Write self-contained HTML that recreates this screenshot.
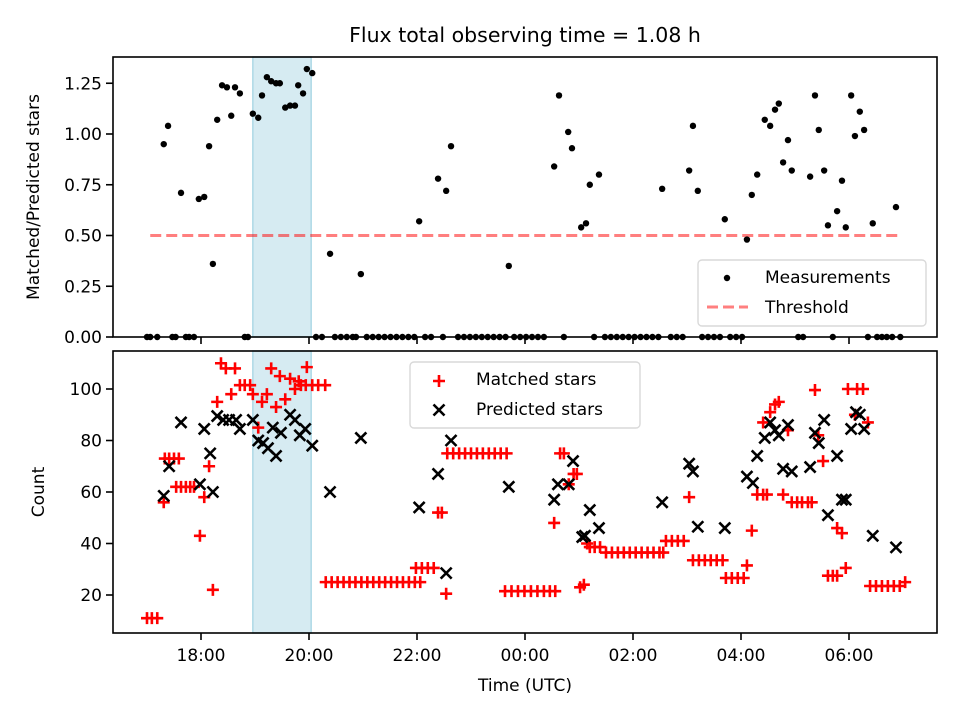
<!DOCTYPE html>
<html><head><meta charset="utf-8"><style>
html,body{margin:0;padding:0;background:#fff;}
svg{display:block;font-family:"DejaVu Sans","Liberation Sans",sans-serif;}
</style></head><body>
<svg id="chart" width="960" height="720" viewBox="0 0 960 720" xmlns="http://www.w3.org/2000/svg"></svg>
<script>
// ---- data (times in decimal hours, >24 = next day) ----
const xTickHours = [18, 20, 22, 24, 26, 28, 30];
const xTickLabels = ["18:00", "20:00", "22:00", "00:00", "02:00", "04:00", "06:00"];
const topTicks = [0, 0.25, 0.5, 0.75, 1.0, 1.25];
const topTickLabels = ["0.00", "0.25", "0.50", "0.75", "1.00", "1.25"];
const botTicks = [20, 40, 60, 80, 100];
const botTickLabels = ["20", "40", "60", "80", "100"];
const threshold = 0.5;
const thresholdRange = [17.06, 30.96];
const shadeRange = [18.96, 20.04];

const ratioTimes = [17.31,17.39,17.63,17.96,18.06,18.15,18.22,18.30,18.39,18.48,18.56,18.63,18.72,18.96,19.06,19.13,19.22,19.30,19.39,19.46,19.56,19.65,19.74,19.80,19.89,19.96,20.06,20.39,20.96,22.04,22.39,22.54,22.63,23.70,24.54,24.63,24.80,24.87,25.04,25.13,25.20,25.37,26.54,27.04,27.11,27.20,27.70,28.11,28.20,28.30,28.44,28.54,28.63,28.70,28.78,28.87,28.94,29.28,29.37,29.44,29.54,29.61,29.78,29.87,29.94,30.04,30.11,30.20,30.28,30.44,30.87];
const ratioValues = [0.95,1.04,0.71,0.68,0.69,0.94,0.36,1.07,1.24,1.23,1.09,1.23,1.20,1.10,1.08,1.19,1.28,1.26,1.25,1.25,1.13,1.14,1.14,1.24,1.20,1.32,1.30,0.41,0.31,0.57,0.78,0.72,0.94,0.35,0.84,1.19,1.01,0.93,0.54,0.56,0.75,0.80,0.73,0.82,1.04,0.72,0.58,0.48,0.70,0.80,1.07,1.04,1.12,1.15,0.86,0.97,0.82,0.79,1.19,1.02,0.82,0.55,0.62,0.77,0.54,1.19,0.99,1.11,1.02,0.56,0.64];
const zeroTimes = [17.00,17.06,17.19,17.47,17.53,17.72,17.78,17.87,18.81,18.87,20.13,20.24,20.48,20.59,20.70,20.81,20.87,21.07,21.18,21.29,21.40,21.51,21.62,21.73,21.84,21.95,22.15,22.26,22.48,22.76,22.87,22.98,23.09,23.20,23.31,23.42,23.53,23.64,23.80,23.91,24.02,24.13,24.24,24.35,24.72,25.28,25.48,25.59,25.70,25.81,25.92,26.03,26.14,26.25,26.36,26.47,26.70,26.81,26.92,27.28,27.39,27.50,27.61,27.80,27.91,28.02,29.06,29.15,29.70,30.35,30.52,30.61,30.70,30.80,30.95];

const matchedTimes = [17.00,17.09,17.19,17.31,17.33,17.41,17.50,17.59,17.54,17.63,17.72,17.80,17.87,17.98,18.06,18.15,18.22,18.30,18.37,18.46,18.63,18.56,18.72,18.81,18.91,18.96,19.06,19.13,19.22,19.30,19.39,19.46,19.56,19.65,19.74,19.81,19.96,19.85,19.94,20.06,20.17,20.30,
20.31,20.42,20.53,20.64,20.75,20.86,20.97,21.08,21.19,21.30,21.41,21.52,21.63,21.74,21.85,21.96,22.06,
21.98,22.09,22.20,22.31,22.39,22.46,22.54,
22.56,22.67,22.78,22.89,23.00,23.11,23.22,23.33,23.44,23.55,23.66,
23.63,23.75,23.87,23.99,24.11,24.23,24.35,24.46,24.56,
24.54,24.65,24.72,24.81,24.90,24.96,25.02,25.09,25.15,25.20,25.29,25.39,
25.50,25.61,25.72,25.83,25.94,26.05,26.16,26.27,26.38,26.49,26.56,
26.61,26.72,26.83,26.94,27.04,27.11,27.22,27.33,27.44,27.55,27.66,
27.72,27.83,27.94,28.05,28.11,28.20,28.30,28.41,28.48,28.41,28.54,28.63,28.70,28.78,28.87,
28.94,29.04,29.13,29.24,29.31,29.37,29.43,29.52,29.61,29.70,29.78,29.78,29.87,29.94,29.98,30.15,30.26,30.11,30.35,
30.39,30.50,30.61,30.72,30.83,30.94,31.04];
const matchedValues = [11,11,11,56,73,73,73,73,62,62,62,62,62,43,58,70,22,95,110,108,108,98,101.5,101.5,101.5,98,85,95,98,108,93,105,96,104,100,103,108.5,101.5,101.5,101.5,101.5,101.5,
25,25,25,25,25,25,25,25,25,25,25,25,25,25,25,25,25,
30.5,30.5,30.5,30.5,52,52,20.5,
75,75,75,75,75,75,75,75,75,75,75,
21.5,21.5,21.5,21.5,21.5,21.5,21.5,21.5,21.5,
48,75,75,63,67,67,23,24,40,38.6,38.6,38.6,
36.5,36.5,36.5,36.5,36.5,36.5,36.5,36.5,36.5,36.5,36.5,
41,41,41,41,58,33.5,33.5,33.5,33.5,33.5,33.5,
26.6,26.6,26.6,26.6,31.5,45,59,59,59,87,91,94,95,59,84,
56,56,56,56,56,99.6,82,72,27.5,27.5,27.5,46,44,30.5,100,100,100,90,87,
23.5,23.5,23.5,23.5,23.5,23.5,25];

const predictedTimes = [17.31,17.41,17.63,17.98,18.06,18.17,18.22,18.30,18.41,18.52,18.65,18.72,18.96,19.06,19.15,19.24,19.39,19.33,19.48,19.65,19.74,19.83,19.93,20.06,20.39,20.96,22.04,22.39,22.54,22.63,23.70,24.54,24.61,24.81,24.89,25.06,25.11,25.20,25.37,26.54,27.04,27.11,27.20,27.70,28.11,28.22,28.30,28.44,28.54,28.63,28.70,28.87,28.78,28.94,29.28,29.37,29.44,29.54,29.61,29.78,29.87,29.94,30.04,30.13,30.20,30.28,30.44,30.87];
const predictedValues = [58.5,70,87,63,84.5,75,60,89.5,88,88,88,84.5,88,80,79,77,74,85,83,90,88,82,84.5,78,60,81,54,67,28.5,80,62,57,63,63,72,42.5,43,53,46,56,71,68,46.5,46,66,63.5,74,81,87,84,82,86,69,68,69.7,83,79,88,51,74,57,57,84.5,91,90,84.5,43,38.5];

// ---- layout ----
const L = 113, R = 937, T1 = 57, B1 = 337, T2 = 351, B2 = 633;
const xs = h => 201 + (h - 18) * 54;
const yTop = v => 337 - v * 203;
const yBot = v => 595 - (v - 20) * 2.575;
const NS = "http://www.w3.org/2000/svg";
const svg = document.getElementById("chart");
function el(tag, attrs, parent) {
  const e = document.createElementNS(NS, tag);
  for (const k in attrs) e.setAttribute(k, attrs[k]);
  (parent || svg).appendChild(e);
  return e;
}
function txt(s, attrs, parent) { const t = el("text", attrs, parent); t.textContent = s; return t; }

// shading
[[T1, B1], [T2, B2]].forEach(([t, b], i) => {
  const r = el("rect", {x: xs(shadeRange[0]), y: t, width: xs(shadeRange[1]) - xs(shadeRange[0]), height: b - t, fill: "#add8e6", "fill-opacity": 0.5, stroke: "#add8e6", "stroke-width": 1.5});
  
  
});

// threshold
const th = el("line", {x1: xs(thresholdRange[0]), x2: xs(thresholdRange[1]), y1: yTop(threshold), y2: yTop(threshold), stroke: "#ff0000", "stroke-opacity": 0.5, "stroke-width": 3, "stroke-dasharray": "11,5"});



// top scatter
const gTop = el("g", {});


ratioTimes.forEach((t, i) => {
  const c = el("circle", {cx: xs(t), cy: yTop(ratioValues[i]), r: 3.2, fill: "#000"}, gTop);
  
  
});
zeroTimes.forEach(t => {
  const c = el("circle", {cx: xs(t), cy: yTop(0), r: 3.2, fill: "#000"}, gTop);
  
  
});

// bottom scatter
function plus(cx, cy, g) {
  return el("path", {d: `M${cx-6},${cy}H${cx+6}M${cx},${cy-6}V${cy+6}`, stroke: "#ff0000", "stroke-width": 2.6, fill: "none"}, g);
}
function cross(cx, cy, g) {
  return el("path", {d: `M${cx-5.5},${cy-5.5}L${cx+5.5},${cy+5.5}M${cx-5.5},${cy+5.5}L${cx+5.5},${cy-5.5}`, stroke: "#000", "stroke-width": 2.6, fill: "none"}, g);
}
const gM = el("g", {});


matchedTimes.forEach((t, i) => {
  const p = plus(xs(t), yBot(matchedValues[i]), gM);
  
  
});
const gP = el("g", {});


predictedTimes.forEach((t, i) => {
  const p = cross(xs(t), yBot(predictedValues[i]), gP);
  
  
});

// axes frames & ticks
[[T1, B1, "top"], [T2, B2, "bottom"]].forEach(([t, b, nm]) => {
  const f = el("rect", {x: L, y: t, width: R - L, height: b - t, fill: "none", stroke: "#000", "stroke-width": 1.6});
  
  
  xTickHours.forEach((h, i) => {
    const tk = el("line", {x1: xs(h), x2: xs(h), y1: b, y2: b + 7, stroke: "#000", "stroke-width": 1.6});
    
    
    if (nm === "bottom") {
      const lb = txt(xTickLabels[i], {x: xs(h), y: b + 28, "text-anchor": "middle", "font-size": 17});
      
      
    }
  });
});
topTicks.forEach((v, i) => {
  const tk = el("line", {x1: L - 7, x2: L, y1: yTop(v), y2: yTop(v), stroke: "#000", "stroke-width": 1.6});
  
  
  const lb = txt(topTickLabels[i], {x: L - 11, y: yTop(v) + 6, "text-anchor": "end", "font-size": 17});
  
  
});
botTicks.forEach((v, i) => {
  const tk = el("line", {x1: L - 7, x2: L, y1: yBot(v), y2: yBot(v), stroke: "#000", "stroke-width": 1.6});
  
  
  const lb = txt(botTickLabels[i], {x: L - 11, y: yBot(v) + 6, "text-anchor": "end", "font-size": 17});
  
  
});

// titles & labels
let e;
e = txt("Flux total observing time = 1.08 h", {x: 525, y: 42, "text-anchor": "middle", "font-size": 20.5});
 
e = txt("Matched/Predicted stars", {x: 0, y: 0, "text-anchor": "middle", "font-size": 17, transform: "translate(39,197) rotate(-90)"});
 
e = txt("Count", {x: 0, y: 0, "text-anchor": "middle", "font-size": 17, transform: "translate(44,492) rotate(-90)"});
 
e = txt("Time (UTC)", {x: 525, y: 691, "text-anchor": "middle", "font-size": 17});
 

// legend top
const lg1 = el("g", {});
 
el("rect", {x: 698, y: 260, width: 228, height: 66, rx: 4, fill: "#fff", "fill-opacity": 0.8, stroke: "#d9d9d9", "stroke-width": 1.4}, lg1);
el("circle", {cx: 727, cy: 278, r: 3.2, fill: "#000"}, lg1);
txt("Measurements", {x: 765, y: 283, "font-size": 17}, lg1);
el("line", {x1: 707, x2: 748, y1: 307, y2: 307, stroke: "#ff0000", "stroke-opacity": 0.5, "stroke-width": 3, "stroke-dasharray": "11,5"}, lg1);
txt("Threshold", {x: 765, y: 313, "font-size": 17}, lg1);

// legend bottom
const lg2 = el("g", {});
 
el("rect", {x: 410, y: 362, width: 230, height: 66, rx: 4, fill: "#fff", "fill-opacity": 0.8, stroke: "#d9d9d9", "stroke-width": 1.4}, lg2);
plus(439, 381, lg2);
txt("Matched stars", {x: 476, y: 385, "font-size": 17}, lg2);
cross(439, 410, lg2);
txt("Predicted stars", {x: 476, y: 415, "font-size": 17}, lg2);
</script>
</body></html>
